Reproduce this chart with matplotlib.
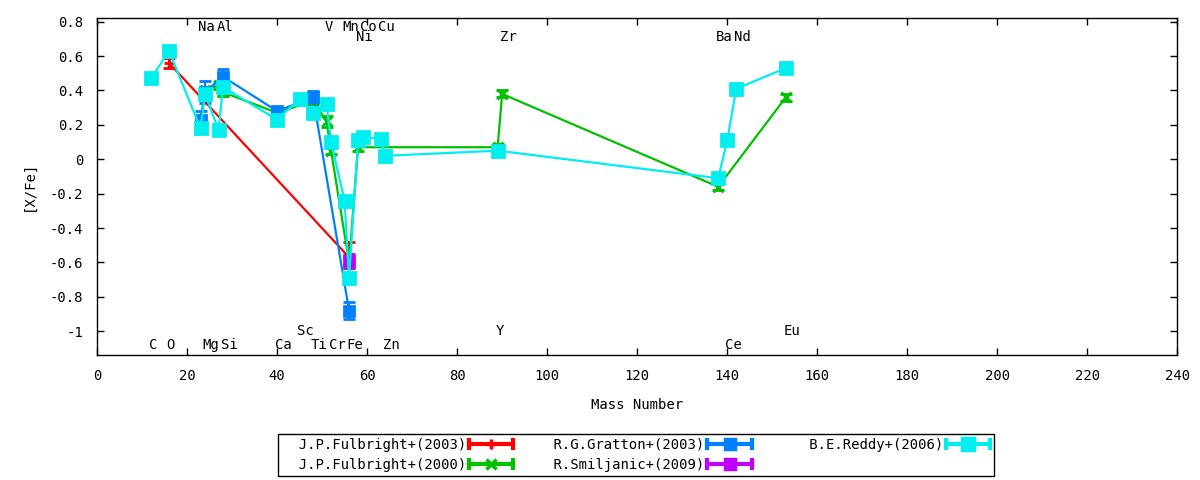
import matplotlib
matplotlib.use("Agg")
import matplotlib.pyplot as plt
from matplotlib.lines import Line2D
from matplotlib.legend_handler import HandlerBase
from matplotlib.ticker import FuncFormatter

plt.rcParams["font.family"] = ["DejaVu Sans Mono"]
plt.rcParams["font.size"] = 10
plt.rcParams["axes.unicode_minus"] = False

# J.P.Fulbright+(2003)
ful03_x = [16, 56]
ful03_y = [0.56, -0.57]
ful03_e = [0.03, 0.09]

# J.P.Fulbright+(2000)
ful00_x = [24, 27, 28, 40, 48, 51, 52, 56, 58, 89, 90, 138, 153]
ful00_y = [0.40, 0.43, 0.39, 0.27, 0.34, 0.22, 0.05, -0.60, 0.07, 0.07, 0.38, -0.16, 0.36]
ful00_e = [0.02, 0.02, 0.02, 0.02, 0.02, 0.03, 0.02, 0.03, 0.02, 0.02, 0.02, 0.02, 0.02]

# R.G.Gratton+(2003)
grat_x = [23, 24, 28, 40, 48, 56]
grat_y = [0.23, 0.39, 0.48, 0.28, 0.36, -0.88]
grat_e = [0.05, 0.065, 0.045, 0.02, 0.035, 0.05]

# R.Smiljanic+(2009)
smil_x = [56]
smil_y = [-0.59]
smil_e = [0.04]

# B.E.Reddy+(2006)
redd_x = [12, 16, 23, 24, 27, 28, 40, 45, 48, 51, 52, 55, 56, 58, 59, 63, 64,
          89, 138, 140, 142, 153]
redd_y = [0.47, 0.63, 0.18, 0.38, 0.17, 0.42, 0.23, 0.35, 0.27, 0.32, 0.10, -0.24,
          -0.69, 0.11, 0.13, 0.12, 0.02, 0.05, -0.11, 0.11, 0.41, 0.53]
redd_e = [0.0] * len(redd_x)

# element labels (name, mass number, row)
elem_names = ["Na", "Al", "V", "Mn", "Co", "Cu",
              "Ni", "Zr", "Ba", "Nd",
              "Sc", "Y", "Eu",
              "C", "O", "Mg", "Si", "Ca", "Ti", "Cr", "Fe", "Zn", "Ce"]
elem_mass = [23, 27, 51, 55, 59, 63,
             58, 90, 138, 142,
             45, 89, 153,
             12, 16, 24, 28, 40, 48, 52, 56, 64, 140]
elem_row = [0] * 6 + [1] * 4 + [2] * 3 + [3] * 10
row_y = [0.77, 0.71, -1.0, -1.08]

series = [
    ("J.P.Fulbright+(2003)", ful03_x, ful03_y, ful03_e, "#ff0000", "+"),
    ("J.P.Fulbright+(2000)", ful00_x, ful00_y, ful00_e, "#00c000", "x"),
    ("R.G.Gratton+(2003)", grat_x, grat_y, grat_e, "#0080ff", "s"),
    ("R.Smiljanic+(2009)", smil_x, smil_y, smil_e, "#c000ff", "s"),
    ("B.E.Reddy+(2006)", redd_x, redd_y, redd_e, "#00eeee", "s"),
]


class GnuErrSample(HandlerBase):
    # gnuplot style key sample: horizontal bar with end ticks and a point
    def create_artists(self, legend, orig, xdescent, ydescent, width, height,
                       fontsize, trans):
        c = orig.get_color()
        y = height / 2 - ydescent
        x0, x1 = -xdescent, width - xdescent
        h = 0.4 * height
        arts = [
            Line2D([x0, x1], [y, y], color=c, lw=3),
            Line2D([x0, x0], [y - h, y + h], color=c, lw=3),
            Line2D([x1, x1], [y - h, y + h], color=c, lw=3),
            Line2D([(x0 + x1) / 2], [y], color=c, marker=orig.get_marker(),
                   ms=orig.get_markersize(), mew=2.5, ls="none"),
        ]
        for a in arts:
            a.set_transform(trans)
        return arts


fig = plt.figure(figsize=(12, 4.8), dpi=100)
ax = fig.add_axes([0.0808, 0.2604, 0.9004, 0.7027])

proxies = []
for label, xs, ys, es, col, mk in series:
    ms = 8 if mk == "s" else 7
    if label.startswith("R.G") or label.startswith("R.S"):
        ms = 6.5
    ax.errorbar(xs, ys, yerr=es, color=col, marker=mk, ms=ms, mew=2,
                lw=1.6, elinewidth=1.6, capsize=4, capthick=1.6)
    proxies.append(Line2D([], [], color=col, marker=mk, ms=ms if mk == "s" else 7))

for name, m, r in zip(elem_names, elem_mass, elem_row):
    ax.text(m - 0.5, row_y[r], name, ha="left", va="center")

ax.set_xlim(0, 240)
ax.set_ylim(-1.138, 0.823)
ax.set_xticks(range(0, 241, 20))
ax.set_yticks([-1, -0.8, -0.6, -0.4, -0.2, 0, 0.2, 0.4, 0.6, 0.8])
ax.yaxis.set_major_formatter(FuncFormatter(lambda v, p: "%g" % round(v, 2)))
ax.tick_params(direction="in", length=5, width=1, top=True, right=True, pad=10)
for s in ax.spines.values():
    s.set_linewidth(1)

ax.set_xlabel("Mass Number", labelpad=11)
ax.set_ylabel("[X/Fe]", labelpad=10)

leg = fig.legend(proxies, [s[0].rjust(22) for s in series], ncol=3,
                 loc="center", bbox_to_anchor=(0.530, 0.052),
                 handler_map={Line2D: GnuErrSample()},
                 markerfirst=False, handlelength=3.2, handletextpad=0.2,
                 columnspacing=0.5, labelspacing=0.45, borderpad=0.3,
                 fancybox=False, edgecolor="black", framealpha=1)
leg.get_frame().set_linewidth(1)

fig.savefig("out.png", dpi=100)
